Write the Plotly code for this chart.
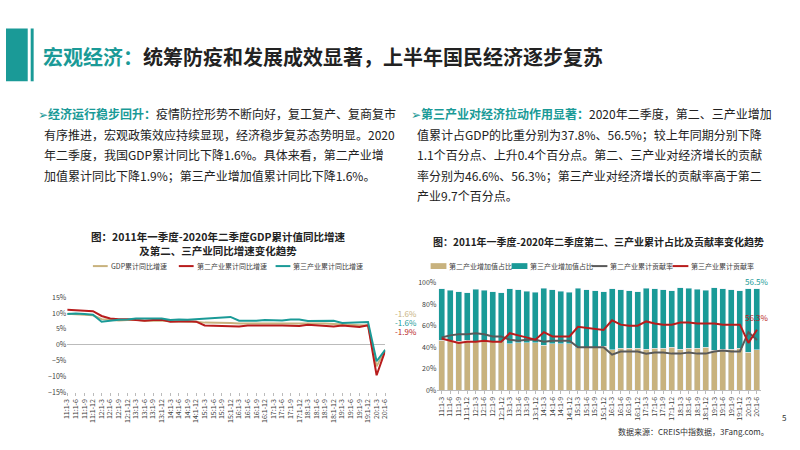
import plotly.graph_objects as go

years = ["11", "12", "13", "14", "15", "16", "17", "18", "19", "20"]
periods = ["1-3", "1-6", "1-9", "1-12"]
quarters = [f"{y}:{p}" for y in years for p in periods][:38]

gdp = [9.8, 9.6, 9.4, 9.3, 8.1, 7.8, 7.7, 7.8, 7.9, 7.6, 7.7, 7.7, 7.4, 7.4, 7.3, 7.3,
       7.0, 7.0, 6.9, 6.9, 6.7, 6.7, 6.7, 6.7, 6.9, 6.9, 6.9, 6.8, 6.8, 6.8, 6.7, 6.6,
       6.4, 6.3, 6.2, 6.1, -6.8, -1.6]
sec = [11.1, 11.0, 10.8, 10.6, 9.1, 8.3, 8.1, 8.1, 7.8, 7.6, 7.8, 7.9, 7.3, 7.4, 7.4, 7.3,
       6.1, 6.0, 6.0, 6.0, 5.8, 6.1, 6.1, 6.1, 6.3, 6.1, 6.0, 5.9, 6.3, 6.1, 5.8, 5.8,
       6.1, 5.8, 5.6, 6.2, -9.6, -1.9]
ter = [9.7, 9.9, 9.7, 9.5, 7.3, 7.7, 7.9, 8.0, 8.3, 8.3, 8.4, 8.3, 7.8, 8.0, 7.9, 8.1,
       8.4, 8.6, 8.6, 8.8, 7.6, 7.5, 7.6, 7.8, 7.7, 7.7, 8.0, 8.0, 7.5, 7.6, 7.7, 7.6,
       6.9, 7.0, 7.0, 7.2, -5.2, -1.6]

sec_share = [46.5, 46, 45.5, 46.5, 45, 45, 45, 45, 43, 44, 44, 44, 42, 43, 43, 43,
             39.5, 40, 40, 40.9, 37.5, 39, 39, 39, 38, 39, 39, 40, 38, 39, 39, 40,
             37, 38, 38, 39, 35.5, 37.8]
ter_share = [48, 47, 46, 44, 49, 48, 46.5, 45.5, 51.5, 49.5, 48, 47, 53, 50.5, 49, 48,
             55.5, 53.5, 52.5, 50.6, 57, 54.5, 53.5, 52.5, 57, 55.5, 54.5, 52.5, 57.5, 56, 55, 53,
             58.5, 56.5, 55.5, 53.5, 59, 56.5]
sec_contrib = [49, 51, 52, 52, 53, 52, 50, 50, 47, 46, 47, 47, 45, 46, 46, 46,
               40, 40, 40, 40, 33, 36, 36, 36, 34, 35, 35, 34, 34, 35, 34, 34,
               36, 37, 36, 36, 54, 46.6]
ter_contrib = [48, 46, 44, 45, 45, 46, 45, 45, 53, 51, 49, 47, 54, 50, 50, 50,
               59, 58, 57, 56, 65, 61, 60, 60, 64, 62, 61, 61, 63, 63, 62, 62,
               62, 61, 61, 61, 44, 56.3]

F = "Noto Sans CJK SC"
TEAL = "#1a9a97"; TAN = "#c8b27e"; RED = "#b81c1c"; GRAY = "#595959"

fig = go.Figure()
fig.add_trace(go.Scatter(x=quarters, y=gdp, name="GDP累计同比增速", line=dict(color=TAN, width=2), xaxis="x", yaxis="y"))
fig.add_trace(go.Scatter(x=quarters, y=sec, name="第二产业累计同比增速", line=dict(color=RED, width=2), xaxis="x", yaxis="y"))
fig.add_trace(go.Scatter(x=quarters, y=ter, name="第三产业累计同比增速", line=dict(color=TEAL, width=2), xaxis="x", yaxis="y"))
fig.add_trace(go.Bar(x=quarters, y=sec_share, name="第二产业增加值占比", marker_color=TAN, xaxis="x2", yaxis="y2"))
fig.add_trace(go.Bar(x=quarters, y=ter_share, name="第三产业增加值占比", marker_color=TEAL, xaxis="x2", yaxis="y2"))
fig.add_trace(go.Scatter(x=quarters, y=sec_contrib, name="第二产业累计贡献率", line=dict(color=GRAY, width=2), xaxis="x2", yaxis="y2"))
fig.add_trace(go.Scatter(x=quarters, y=ter_contrib, name="第三产业累计贡献率", line=dict(color=RED, width=2), xaxis="x2", yaxis="y2"))

tickfont = dict(size=7, color="#404040", family=F)
fig.update_layout(
    width=800, height=450, margin=dict(l=0, r=0, t=0, b=0),
    paper_bgcolor="white", plot_bgcolor="white", font=dict(family=F),
    barmode="stack", bargap=0.3, showlegend=False,
    xaxis=dict(domain=[0.0775, 0.48], tickangle=-90, tickfont=tickfont, showgrid=False, dtick=1,
               ticks="outside", ticklen=3, tickcolor="#bbb", showline=False),
    yaxis=dict(domain=[0.122, 0.338], range=[-15, 15], dtick=5, ticksuffix="%", tickfont=tickfont,
               showgrid=False, zeroline=True, zerolinecolor="#bbb", zerolinewidth=1),
    xaxis2=dict(domain=[0.546, 0.956], tickangle=-90, tickfont=tickfont, showgrid=False, dtick=1,
                ticks="outside", ticklen=3, tickcolor="#bbb", showline=True, linecolor="#bbb", anchor="y2"),
    yaxis2=dict(domain=[0.127, 0.371], range=[0, 100], dtick=20, ticksuffix="%", tickfont=tickfont,
                showgrid=False, anchor="x2"),
)

def px(x): return x / 800
def py(y): return 1 - y / 450

shapes = [
    dict(type="rect", x0=0, x1=px(22), y0=py(77), y1=py(23), fillcolor=TEAL, line_width=0),
    dict(type="rect", x0=px(25), x1=px(28), y0=py(77), y1=py(23), fillcolor=TEAL, line_width=0),
]

def txt(x, y, s, size=13, color="#222", anchor="left"):
    fig.add_annotation(xref="paper", yref="paper", x=px(x), y=py(y), text=s, showarrow=False,
                       xanchor=anchor, yanchor="middle", font=dict(size=size, color=color, family=F))

LY = 266
left_leg = [(88, "GDP累计同比增速", TAN), (175, "第二产业累计同比增速", RED), (273, "第三产业累计同比增速", TEAL)]
for x, name, c in left_leg:
    shapes.append(dict(type="line", x0=px(x), x1=px(x + 15), y0=py(LY), y1=py(LY), line=dict(color=c, width=2)))
    txt(x + 16, LY, name, size=7, color="#404040")
right_leg = [(430, "第二产业增加值占比", TAN, "rect"), (512, "第三产业增加值占比", TEAL, "rect"),
             (593, "第二产业累计贡献率", GRAY, "line"), (675, "第三产业累计贡献率", RED, "line")]
for x, name, c, kind in right_leg:
    if kind == "rect":
        shapes.append(dict(type="rect", x0=px(x), x1=px(x + 16), y0=py(LY + 3), y1=py(LY - 3), fillcolor=c, line_width=0))
    else:
        shapes.append(dict(type="line", x0=px(x), x1=px(x + 16), y0=py(LY), y1=py(LY), line=dict(color=c, width=2)))
    txt(x + 17, LY, name, size=7, color="#404040")

for s in shapes:
    s["xref"] = "paper"; s["yref"] = "paper"
fig.update_layout(shapes=shapes)

txt(35, 52, f"<b><span style='color:{TEAL}'>宏观经济：</span>统筹防疫和发展成效显著，上半年国民经济逐步复苏</b>", size=20)
left_lines = [
    f"<span style='color:{TEAL}'>➢<b>经济运行稳步回升：</b></span>疫情防控形势不断向好，复工复产、复商复市",
    "有序推进，宏观政策效应持续显现，经济稳步复苏态势明显。2020",
    "年二季度，我国GDP累计同比下降1.6%。具体来看，第二产业增",
    "加值累计同比下降1.9%；第三产业增加值累计同比下降1.6%。",
]
right_lines = [
    f"<span style='color:{TEAL}'>➢<b>第三产业对经济拉动作用显著：</b></span>2020年二季度，第二、三产业增加",
    "值累计占GDP的比重分别为37.8%、56.5%；较上年同期分别下降",
    "1.1个百分点、上升0.4个百分点。第二、三产业对经济增长的贡献",
    "率分别为46.6%、56.3%；第三产业对经济增长的贡献率高于第二",
    "产业9.7个百分点。",
]
for i, s in enumerate(left_lines):
    txt(30 if i == 0 else 36, 110 + i * 21, s, size=12)
for i, s in enumerate(right_lines):
    txt(408 if i == 0 else 414, 110 + i * 21, s, size=12)

txt(215, 243, "<b>图：2011年一季度-2020年二季度GDP累计值同比增速<br>及第二、三产业同比增速变化趋势</b>", size=10.5, anchor="center")
txt(600, 241, "<b>图：2011年一季度-2020年二季度第二、三产业累计占比及贡献率变化趋势</b>", size=10, anchor="center")

txt(392, 314, "-1.6%", size=8, color=TAN)
txt(392, 324, "-1.6%", size=8, color=TEAL)
txt(392, 333, "-1.9%", size=8, color=RED)
txt(746, 282, "56.5%", size=8, color=TEAL)
txt(746, 319, "56.3%", size=8, color=RED)

txt(775, 435, "数据来源：CREIS中指数据，3Fang.com。", size=8, color="#333", anchor="right")
txt(792, 421, "5", size=8, color="#333", anchor="right")

fig.write_html("out.html", config={"displayModeBar": False},
               post_script="document.body.style.margin='0';document.body.style.overflow='hidden';")
